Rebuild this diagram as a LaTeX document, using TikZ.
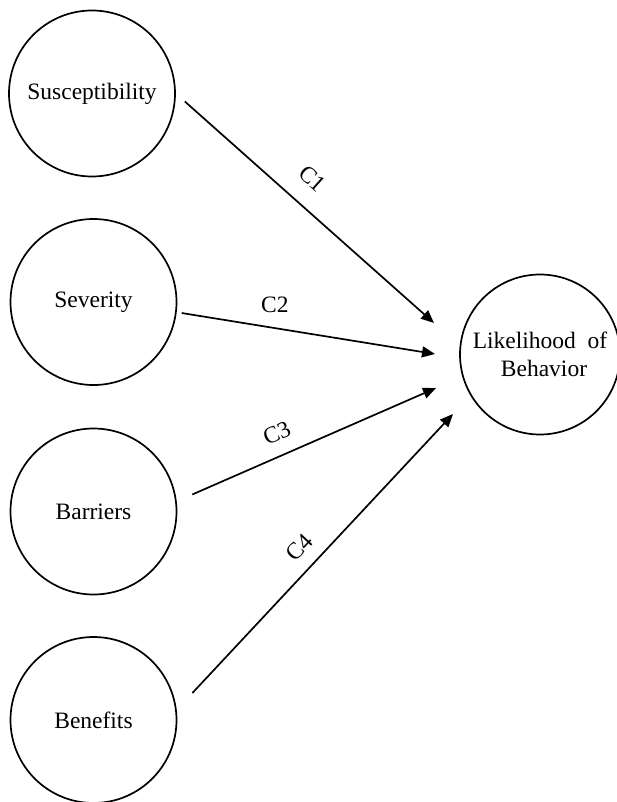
\documentclass[tikz,border=0pt]{standalone}
\usepackage{fontspec}
\setmainfont{Liberation Serif}
\usetikzlibrary{arrows.meta}
\tikzset{
  factor/.style={draw,circle,line width=1.7pt,minimum size=166pt,inner sep=0pt,
    font=\fontsize{23.5}{28}\selectfont},
  link/.style={line width=1.7pt,-{Triangle[length=13pt,width=11pt]}},
  coef/.style={font=\fontsize{23.5}{28}\selectfont}
}
\begin{document}
\begin{tikzpicture}[x=1pt,y=-1pt]
\useasboundingbox (0,0) rectangle (617,802);
% predictors
\node[factor] (sus) at (92,93.5) {Susceptibility};
\node[factor] (sev) at (93.5,302) {Severity};
\node[factor] (bar) at (93.5,511.5) {Barriers};
\node[factor] (ben) at (93.5,720) {Benefits};
% outcome
\node[factor,minimum size=160pt,align=center] (lik) at (540,354.5)
  {Likelihood\ \ of\\\hspace{8pt}Behavior};
% arrow tips
\coordinate (t1) at (434,323);
\coordinate (t2) at (435,354);
\coordinate (t3) at (436,388);
\coordinate (t4) at (453,414);
\draw[link,shorten <=12pt] (sus.0) -- node[coef,pos=.46,sloped,above=15pt] {C1} (t1);
\draw[link,shorten <=5pt] (sev.-7) -- node[coef,pos=.38,above=11pt] {C2} (t2);
\draw[link,shorten <=17pt] (bar.7) -- node[coef,pos=.42,sloped,above=10pt] {C3} (t3);
\draw[link,shorten <=23pt] (ben.7) -- node[coef,pos=.5,sloped,above=9pt] {C4} (t4);
\end{tikzpicture}
\end{document}
